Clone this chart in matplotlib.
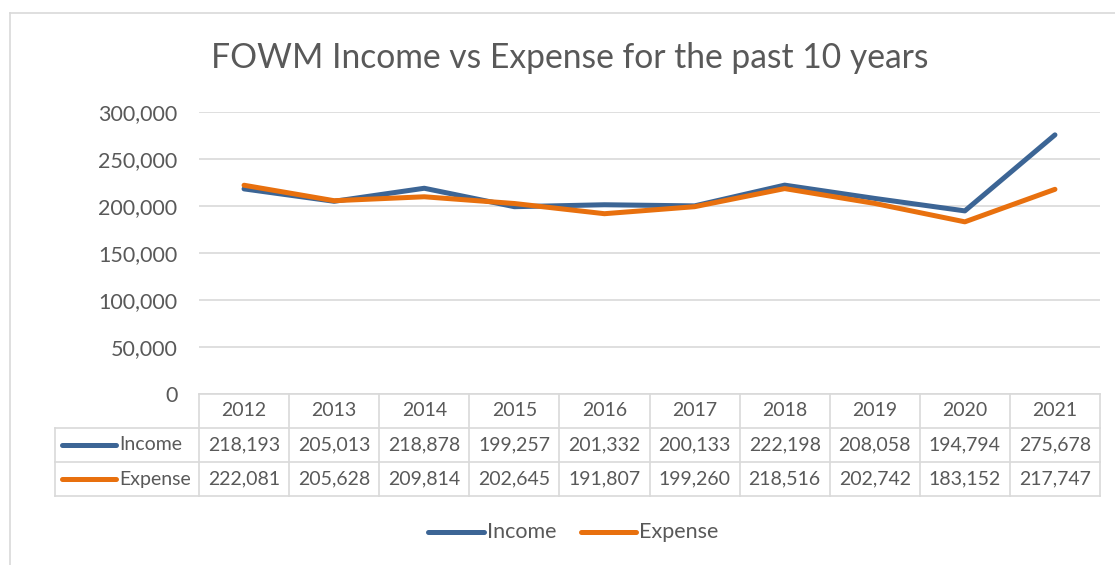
import matplotlib
matplotlib.use("Agg")
import matplotlib.pyplot as plt
from matplotlib.lines import Line2D

years = ["2012", "2013", "2014", "2015", "2016", "2017", "2018", "2019", "2020", "2021"]
income = [218193, 205013, 218878, 199257, 201332, 200133, 222198, 208058, 194794, 275678]
expense = [222081, 205628, 209814, 202645, 191807, 199260, 218516, 202742, 183152, 217747]
series_names = ["Income", "Expense"]
title = "FOWM Income vs Expense for the past 10 years"

W, H = 1115, 565
plt.rcParams['font.family'] = ['Lato', 'DejaVu Sans']
TXT = "#595959"
GRID = "#D9D9D9"
C_INC = "#3C6595"
C_EXP = "#E8700E"
FS = 14

fig = plt.figure(figsize=(W / 100, H / 100), dpi=100)

def fx(x):
    return x / W

def fy(y):
    return 1 - y / H

# chart border
fig.add_artist(Line2D([fx(10), fx(W)], [fy(13), fy(13)], color=GRID, lw=1.2))
fig.add_artist(Line2D([fx(10), fx(10)], [fy(13), fy(H)], color=GRID, lw=1.2))

# plot area
x0, x1 = 199, 1100
ytop, ybot = 112, 394
ax = fig.add_axes([fx(x0), fy(ybot), (x1 - x0) / W, (ybot - ytop) / H])
n = len(years)
xs = list(range(n))
ax.set_xlim(-0.5, n - 0.5)
ax.set_ylim(0, 300000)
ax.set_yticks(range(0, 300001, 50000))
ax.set_yticklabels([f"{v:,}" for v in range(0, 300001, 50000)], color=TXT, fontsize=15.5)
ax.tick_params(axis='y', length=0, pad=15.5)
ax.set_xticks([])
ax.grid(axis='y', color=GRID, lw=1.2)
ax.set_axisbelow(True)
for s in ax.spines.values():
    s.set_visible(False)
ax.plot(xs, income, color=C_INC, lw=3.6, solid_capstyle='round', solid_joinstyle='round', zorder=3)
ax.plot(xs, expense, color=C_EXP, lw=3.6, solid_capstyle='round', solid_joinstyle='round', zorder=3)

fig.text(fx(570), fy(58), title, ha='center', va='center', fontsize=24.2, color=TXT)

# data table
cw = (x1 - x0) / n
rows_y = [394, 428, 462, 496]
lab_x = 55
fig.add_artist(Line2D([fx(x0), fx(x1)], [fy(rows_y[0])] * 2, color=GRID, lw=1.2))
for yy in rows_y[1:]:
    fig.add_artist(Line2D([fx(lab_x), fx(x1)], [fy(yy)] * 2, color=GRID, lw=1.2))
fig.add_artist(Line2D([fx(lab_x)] * 2, [fy(rows_y[1]), fy(rows_y[3])], color=GRID, lw=1.2))
for k in range(n + 1):
    xx = x0 + k * cw
    fig.add_artist(Line2D([fx(xx)] * 2, [fy(rows_y[0]), fy(rows_y[3])], color=GRID, lw=1.2))

for i, yr in enumerate(years):
    cx = x0 + (i + 0.5) * cw
    fig.text(fx(cx), fy((rows_y[0] + rows_y[1]) / 2), yr, ha='center', va='center', fontsize=FS, color=TXT)
    fig.text(fx(cx), fy((rows_y[1] + rows_y[2]) / 2), f"{income[i]:,}", ha='center', va='center', fontsize=FS, color=TXT)
    fig.text(fx(cx), fy((rows_y[2] + rows_y[3]) / 2), f"{expense[i]:,}", ha='center', va='center', fontsize=FS, color=TXT)

for r, (name, col) in enumerate(zip(series_names, [C_INC, C_EXP])):
    cy = (rows_y[r + 1] + rows_y[r + 2]) / 2
    fig.add_artist(Line2D([fx(62), fx(116)], [fy(cy)] * 2, color=col, lw=3.6, solid_capstyle='round'))
    fig.text(fx(119), fy(cy), name, ha='left', va='center', fontsize=FS, color=TXT)

# legend
leg_y = 532
for (lx0, lx1, tx), name, col in zip([(428, 484, 487), (581, 636, 639)], series_names, [C_INC, C_EXP]):
    fig.add_artist(Line2D([fx(lx0), fx(lx1)], [fy(leg_y)] * 2, color=col, lw=3.6, solid_capstyle='round'))
    fig.text(fx(tx), fy(leg_y), name, ha='left', va='center', fontsize=15.5, color=TXT)

fig.savefig("out.png", dpi=100)
